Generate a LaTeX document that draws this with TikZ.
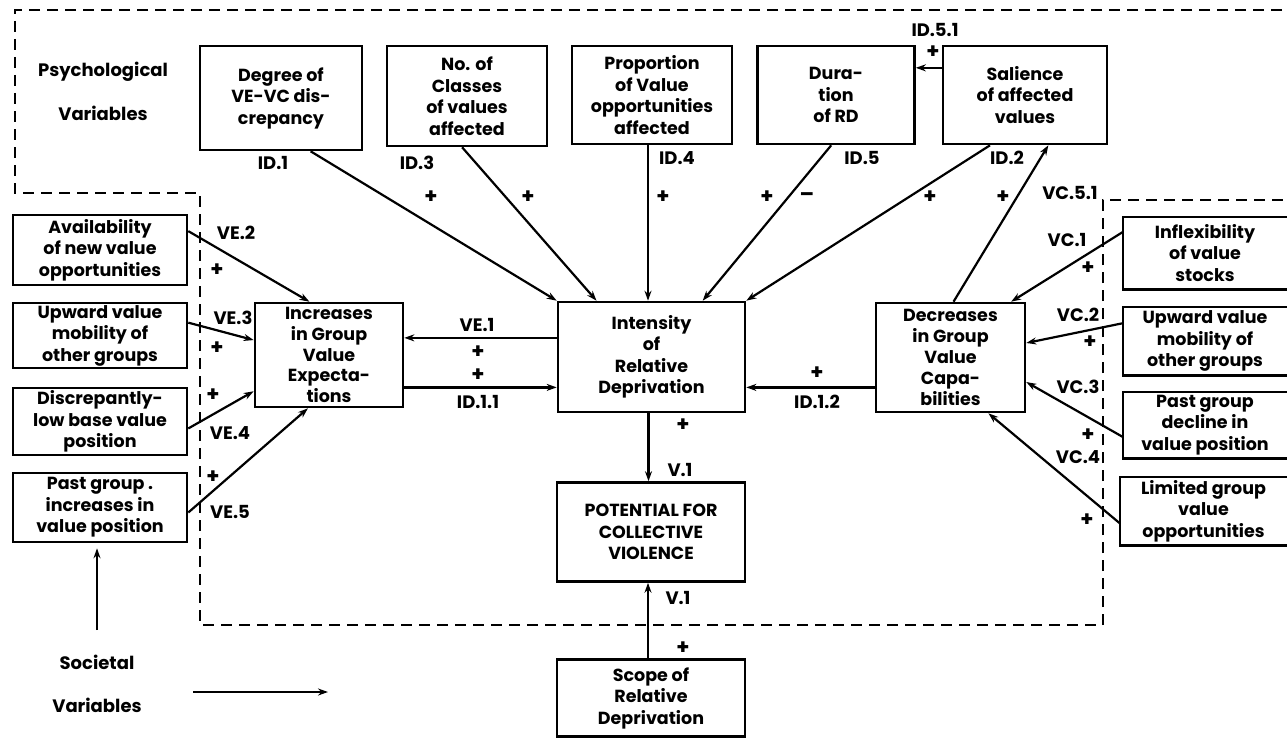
\documentclass[tikz,border=0pt]{standalone}
\usepackage{fontspec}
\setmainfont{Poppins}
\usetikzlibrary{calc,arrows.meta}
\newcommand{\boxfnt}{\bfseries\fontsize{17.5}{21.5}\selectfont}
\newcommand{\tightfnt}{\bfseries\fontsize{17.5}{20.8}\selectfont}
\newcommand{\labfnt}{\bfseries\fontsize{18}{20}\selectfont}
\begin{document}
\begin{tikzpicture}[x=1pt,y=-1pt,
  box/.style={draw, line width=2.6pt, align=center, inner sep=0pt, font=\boxfnt},
  obox/.style={align=center, inner sep=0pt, font=\boxfnt},
  lab/.style={inner sep=0pt, font=\labfnt},
  sgn/.style={inner sep=0pt, font=\labfnt\fontsize{21}{21}\selectfont},
  arr/.style={line width=2.2pt, -{Stealth[length=10pt,width=7pt]}},
  bnd/.style={line width=2.4pt, dash pattern=on 11pt off 7pt}]
\useasboundingbox (0,0) rectangle (1287,741);

% boundary of psychological variables
\draw[bnd] (1300,10) -- (15,10) -- (15,193) -- (200,193) -- (200,625) -- (1103,625) -- (1103,200) -- (1300,200);

% top row
\node[box, minimum width=162pt, minimum height=104pt] (deg) at (281,98) {Degree of\\VE-VC dis-\\crepancy};
\node[box, minimum width=160pt, minimum height=100pt] (ncl) at (467,96) {No. of\\Classes\\of values\\affected};
\node[box, minimum width=160pt, minimum height=98pt] (prop) at (652,95) {Proportion\\of Value\\opportunities\\affected};
\node[box, minimum width=157pt, minimum height=98pt] (dur) at (836,95) {Dura-\\tion\\of RD};
\node[box, minimum width=164pt, minimum height=98pt] (sal) at (1025,95) {Salience\\of affected\\values};

% centre
\node[box, minimum width=187pt, minimum height=110pt] (int) at (651.5,357) {Intensity\\of\\Relative\\Deprivation};
\node[box, minimum width=188pt, minimum height=99pt] (pot) at (651,532) {POTENTIAL FOR\\COLLECTIVE\\VIOLENCE};
\node[box, minimum width=188pt, minimum height=77pt] (scope) at (651,698) {Scope of\\Relative\\Deprivation};
\node[box, font=\tightfnt, minimum width=148pt, minimum height=104pt] (inc) at (329,355) {Increases\\in Group\\Value\\Expecta-\\tions};
\node[box, font=\tightfnt, minimum width=149pt, minimum height=109pt] (dec) at (950.5,357.5) {Decreases\\in Group\\Value\\Capa-\\bilities};

% left boxes
\node[box, minimum width=174pt, minimum height=70pt] (av) at (100,250) {Availability\\of new value\\opportunities};
\node[box, minimum width=174pt, minimum height=65pt] (upL) at (100,335.5) {Upward value\\mobility of\\other groups};
\node[box, minimum width=174pt, minimum height=67pt] (disc) at (100,421.5) {Discrepantly-\\low base value\\position};
\node[box, minimum width=174pt, minimum height=69pt] (pastL) at (100,507.5) {Past group .\\increases in\\value position};

% right boxes (open to the right)
\node[obox, minimum width=164pt, minimum height=72pt] (infl) at (1205,253) {Inflexibility\\of value\\stocks};
\node[obox, minimum width=164pt, minimum height=68pt] (upR) at (1205,341) {Upward value\\mobility of\\other groups};
\node[obox, minimum width=164pt, minimum height=66pt] (pastR) at (1205,425) {Past group\\decline in\\value position};
\node[obox, minimum width=167pt, minimum height=68pt] (lim) at (1203.5,511) {Limited group\\value\\opportunities};
\foreach \n in {infl,upR,pastR,lim}
  \draw[line width=2.6pt] ($(\n.north east)+(12,0)$) -- (\n.north west) -- (\n.south west) -- ($(\n.south east)+(12,0)$);

% region titles
\node[lab] (psy1) at (103,72) {Psychological};
\node[lab] (psy2) at (103,113) {Variables};
\node[lab] (soc1) at (97,662) {Societal};
\node[lab] (soc2) at (97,705) {Variables};

% connectors into Intensity
\draw[arr] ($(deg.south west)!.68!(deg.south east)$) -- (int.north west);
\draw[arr] ($(ncl.south west)!.47!(ncl.south east)$) -- ($(int.north west)!.21!(int.north east)$);
\draw[arr] ($(prop.south)+(-4,0)$) -- ($(prop.south |- int.north)+(-4,0)$);
\draw[arr] ($(dur.south west)!.47!(dur.south east)$) -- ($(int.north west)!.77!(int.north east)$);
\draw[arr] ($(sal.south west)!.29!(sal.south east)$) -- (int.north east);
\coordinate (s51) at ($(sal.north west)!.23!(sal.south west)$);
\draw[arr] (s51) -- (s51 -| dur.east);
\draw[arr] ($(dec.north west)!.52!(dec.north east)$) -- ($(sal.south west)!.64!(sal.south east)$);

% horizontal links
\coordinate (ve1) at ($(int.north west)!.33!(int.south west)$);
\draw[arr] (ve1) -- (ve1 -| inc.east);
\coordinate (id11) at ($(int.north west)!.77!(int.south west)$);
\draw[arr] (id11 -| inc.east) -- (id11);
\draw[arr] (id11 -| dec.west) -- (id11 -| int.east);

% vertical links to Potential
\draw[arr] ($(int.south)+(-3,0)$) -- ($(int.south |- pot.north)+(-3,0)$);
\draw[arr] ($(scope.north)+(-3,0)$) -- ($(scope.north |- pot.south)+(-3,0)$);

% left connectors
\draw[arr] ($(av.north east)!.24!(av.south east)$) -- ($(inc.north west)!.37!(inc.north east)$);
\draw[arr] ($(upL.north east)!.31!(upL.south east)$) -- ($(inc.north west)!.36!(inc.south west)$);
\draw[arr] ($(disc.north east)!.6!(disc.south east)$) -- ($(inc.north west)!.84!(inc.south west)$);
\draw[arr] ($(pastL.north east)!.57!(pastL.south east)$) -- ($(inc.south west)!.36!(inc.south east)$);

% right connectors
\draw[arr] ($(infl.north west)!.21!(infl.south west)$) -- ($(dec.north west)!.9!(dec.north east)$);
\draw[arr] ($(upR.north west)!.24!(upR.south west)$) -- ($(dec.north east)!.37!(dec.south east)$);
\draw[arr] ($(pastR.north west)!.68!(pastR.south west)$) -- ($(dec.north east)!.72!(dec.south east)$);
\draw[arr] ($(lim.north west)!.68!(lim.south west)$) -- ($(dec.south west)!.75!(dec.south east)$);

% societal legend arrows
\coordinate (sa) at (97,630);
\draw[arr, shorten >=5pt] (sa) -- (sa |- pastL.south);
\coordinate (h1) at (193,692);
\coordinate (h2) at (328,692);
\draw[arr] (h1) -- (h2);

% labels
\node[lab] (lid1) at (273,163) {ID.1};
\node[lab] (lid3) at (417,163) {ID.3};
\node[lab] (lid4) at (677,158) {ID.4};
\node[lab] (lid5) at (862,158) {ID.5};
\node[lab] (lid2) at (1007,158) {ID.2};
\node[lab] (lid51) at (935,30) {ID.5.1};
\node[lab] (lvc51) at (1070,193) {VC.5.1};
\node[lab] (lve2) at (236,233) {VE.2};
\node[lab] (lve3) at (233,318) {VE.3};
\node[lab] (lve4) at (230,433) {VE.4};
\node[lab] (lve5) at (230,512) {VE.5};
\node[lab] (lve1) at (477,325) {VE.1};
\node[lab] (lid11) at (478,402) {ID.1.1};
\node[lab] (lid12) at (817,402) {ID.1.2};
\node[lab] (lv1a) at (680,470) {V.1};
\node[lab] (lv1b) at (678,598) {V.1};
\node[lab] (lvc1) at (1067,240) {VC.1};
\node[lab] (lvc2) at (1078,315) {VC.2};
\node[lab] (lvc3) at (1078,387) {VC.3};
\node[lab] (lvc4) at (1078,457) {VC.4};

% signs
\node[sgn] (p1) at (431,197) {+};
\node[sgn] (p2) at (528,197) {+};
\node[sgn] (p3) at (663,197) {+};
\node[sgn] (p4) at (767,197) {+};
\node[sgn] (m1) at (807,197) {–};
\node[sgn] (p5) at (930,197) {+};
\node[sgn] (p6) at (1003,197) {+};
\node[sgn] (p7) at (933,52) {+};
\node[sgn] (p8) at (217,270) {+};
\node[sgn] (p9) at (217,348) {+};
\node[sgn] (p10) at (213,395) {+};
\node[sgn] (p11) at (213,477) {+};
\node[sgn] (p12) at (478,352) {+};
\node[sgn] (p13) at (478,375) {+};
\node[sgn] (p14) at (817,373) {+};
\node[sgn] (p15) at (683,425) {+};
\node[sgn] (p16) at (683,648) {+};
\node[sgn] (p17) at (1088,268) {+};
\node[sgn] (p18) at (1090,342) {+};
\node[sgn] (p19) at (1088,435) {+};
\node[sgn] (p20) at (1087,520) {+};
\end{tikzpicture}
\end{document}
